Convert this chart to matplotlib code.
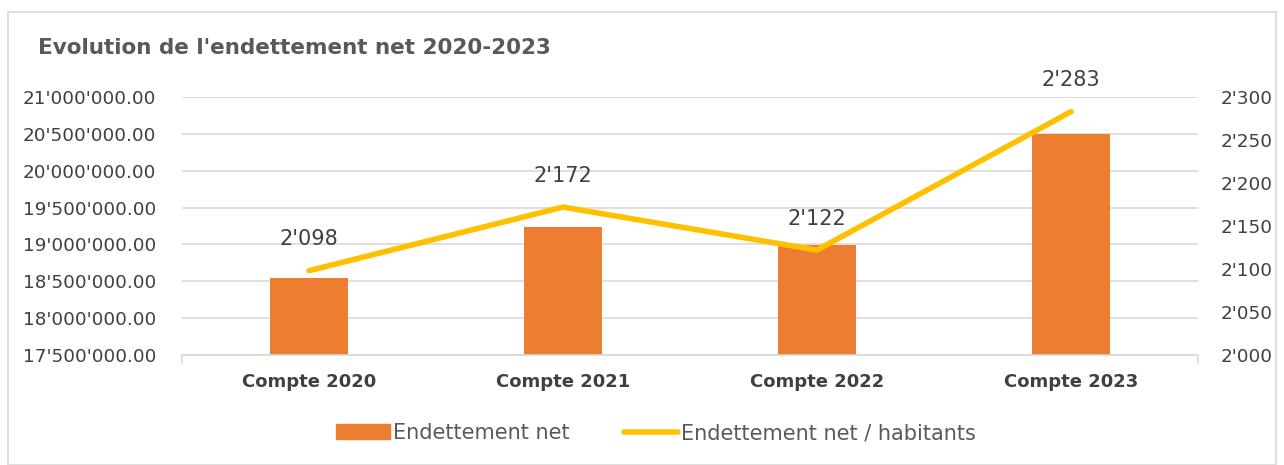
import matplotlib
matplotlib.use("Agg")
import matplotlib.pyplot as plt
from matplotlib.patches import Rectangle
from matplotlib.lines import Line2D
from matplotlib.ticker import FuncFormatter

categories = ["Compte 2020", "Compte 2021", "Compte 2022", "Compte 2023"]
dette_nette = [18550000, 19230000, 18990000, 20500000]
dette_par_habitant = [2098, 2172, 2122, 2283]
left_ticks = [17500000, 18000000, 18500000, 19000000, 19500000, 20000000, 20500000, 21000000]
right_ticks = [2000, 2050, 2100, 2150, 2200, 2250, 2300]

plt.rcParams['font.family'] = ['DejaVu Sans']

fig = plt.figure(figsize=(12.84, 4.65), dpi=100)
fig.patches.append(Rectangle((8/1284, 0), 1 - 16/1284, 1 - 12/465, transform=fig.transFigure,
                             fill=False, edgecolor='#d9d9d9', linewidth=1.2))

ax = fig.add_axes([182/1284, 1 - 355/465, (1198-182)/1284, (355-97)/465])
ax2 = ax.twinx()

x = list(range(len(categories)))
ax.bar(x, dette_nette, width=0.31, color='#ED7D31', zorder=2)
ax.set_xlim(-0.5, len(categories) - 0.5)
ax.set_ylim(17500000, 21000000)
ax.set_yticks(left_ticks)

def fmt_left(v, pos):
    return f"{v:,.2f}".replace(",", "'")

ax.yaxis.set_major_formatter(FuncFormatter(fmt_left))
ax.grid(axis='y', color='#d9d9d9', linewidth=1.2, zorder=0)
ax.set_axisbelow(True)
for sp in ['top', 'left', 'right']:
    ax.spines[sp].set_visible(False)
ax.spines['bottom'].set_color('#d9d9d9')
ax.spines['bottom'].set_linewidth(1.2)
ax.tick_params(axis='y', length=0, pad=18.5, labelsize=13.2, labelcolor='#404040')
ax.tick_params(axis='x', length=0, pad=13)
ax.set_xticks(x)
ax.set_xticklabels(categories, fontsize=13, fontweight='bold', color='#404040')

ax2.plot(x, dette_par_habitant, color='#FFC000', linewidth=4, solid_capstyle='round',
         solid_joinstyle='miter', zorder=3)
ax2.set_ylim(2000, 2300)
ax2.set_yticks(right_ticks)
ax2.yaxis.set_major_formatter(FuncFormatter(lambda v, p: f"{int(v):,}".replace(",", "'")))
for sp in ['top', 'left', 'right', 'bottom']:
    ax2.spines[sp].set_visible(False)
ax2.tick_params(axis='y', length=0, pad=16, labelsize=13.2, labelcolor='#404040')

for xi, v in zip(x, dette_par_habitant):
    ax2.annotate(f"{v:,}".replace(",", "'"), (xi, v), xytext=(0, 15.5), textcoords='offset points',
                 ha='center', va='bottom', fontsize=15, color='#404040')

for xe in [-0.5, len(categories) - 0.5]:
    ax.plot([xe, xe], [0, -0.03], transform=ax.get_xaxis_transform(), color='#d9d9d9',
            linewidth=1.2, clip_on=False)

fig.text(38/1284, 1 - 48/465, "Evolution de l'endettement net 2020-2023", fontsize=15.5,
         fontweight='bold', color='#595959', ha='left', va='center')

handles = [Rectangle((0, 0), 1, 1, color='#ED7D31'),
           Line2D([0], [0], color='#FFC000', linewidth=4, solid_capstyle='round')]
fig.legend(handles, ["Endettement net", "Endettement net / habitants"], loc='center',
           bbox_to_anchor=(656/1284, 1 - 433/465), ncol=2, frameon=False, fontsize=15,
           labelcolor='#595959', handlelength=2.6, handletextpad=0.15, columnspacing=2.6)

fig.savefig("out.png", dpi=100)
